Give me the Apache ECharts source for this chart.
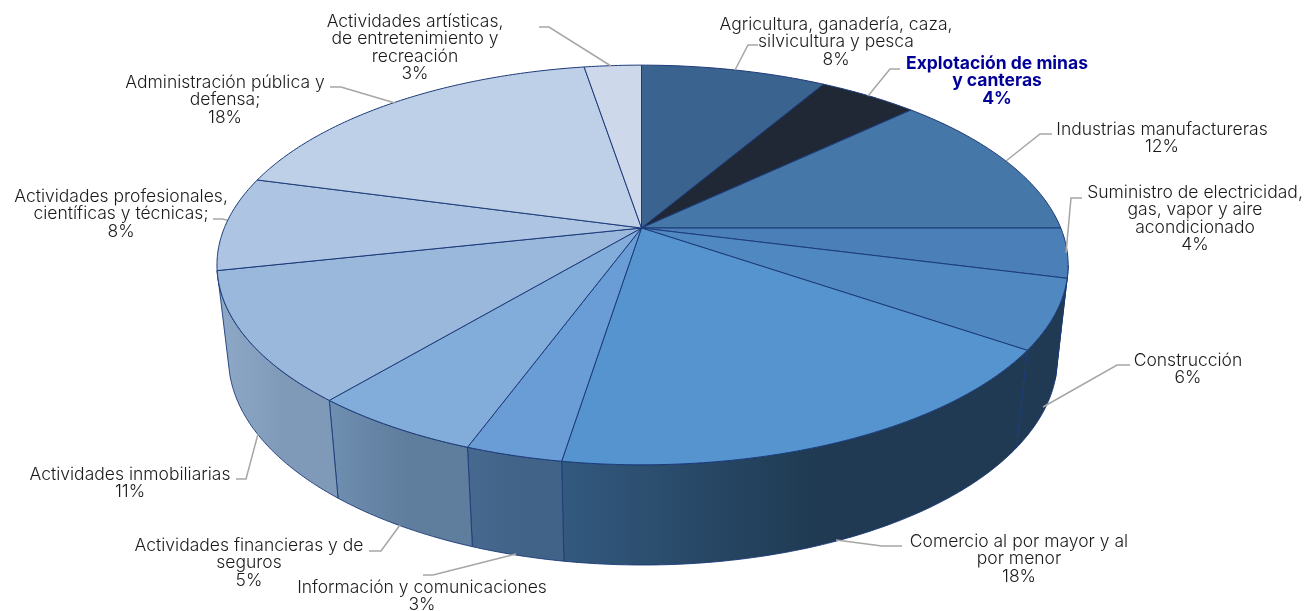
<!DOCTYPE html>
<html><head><meta charset="utf-8">
<style>html,body{margin:0;padding:0;background:#fff}#c{width:1307px;height:611px}</style>
<script src="https://cdn.jsdelivr.net/npm/echarts@6/dist/echarts.min.js"></script>
</head><body><div id="c"></div>
<script>
const categories = ["Agricultura, ganadería, caza,\nsilvicultura y pesca","Explotación de minas\ny canteras","Industrias manufactureras","Suministro de electricidad,\ngas, vapor y aire\nacondicionado","Construcción","Comercio al por mayor y al\npor menor","Información y comunicaciones","Actividades financieras y de\nseguros","Actividades inmobiliarias","Actividades profesionales,\ncientíficas y técnicas;","Administración pública y\ndefensa;","Actividades artísticas,\nde entretenimiento y\nrecreación"];
const shares = [8.4,4.5,12.1,4,5.6,17.9,3.1,5.5,10.5,7.6,18.2,2.6];
const percentLabels = ["8%","4%","12%","4%","6%","18%","3%","5%","11%","8%","18%","3%"];
const topColors = ["#3a648f","#202836","#4577a8","#4a7fb8","#5088c2","#5594cf","#6a9dd5","#82acd9","#9ab7dc","#adc4e2","#bed0e7","#cdd8ea"];
const wallColors = [null,null,null,["#1f3a52","#1f3a52"],["#1f3a52","#1f3a52"],["#33597f","#1f3a52"],["#48698f","#426388"],["#6f8fb2","#5f7d9c"],["#8fa9c8","#7f9ab8"],null,null,null];
const labelCenters = [[836,15.5],[997,54.5],[1162,120.5],[1195,183.5],[1188,351.5],[1019,532.5],[422,578.5],[249,536.5],[130,465.5],[121,187.5],[225,73.5],[415,12.5]];
const leaders = [[[735,70],[748,45],[758,45]],[[868,96],[890,69],[900,69]],[[1006,161],[1040,134],[1052,134]],[[1066,253],[1071,198],[1082,198]],[[1043,407],[1117,365],[1130,365]],[[836,540],[882,546],[902,546]],[[516,554],[433,575],[423,575]],[[400,525],[381,551],[369,551]],[[258,434],[246,479],[236,479]],[[227,220],[222,219],[213,219]],[[395,103],[341,87],[330,87]],[[611,66],[549,27],[539,27]]];

// perspective disc: apex of the pie and projection constants
const AX=641.5, AY=228, AR=419.3, AL=417.2, B=193, K=0.185;
// lower rim ellipse
const BX=643, BY=358, BRX=414.5, BRY=207, BS=0.972;
const VIS0=100.7, VIS1=259.3;
const rad=d=>d*Math.PI/180;
function topPt(deg){const u=Math.sin(rad(deg)),v=-Math.cos(rad(deg)),d=1-K*v;return [AX+(u<0?AL:AR)*u/d,AY+B*v/d];}
function botPt(deg){const p=topPt(deg);const x=AX+BS*(p[0]-AX);const r=Math.max(0,1-Math.pow((x-BX)/BRX,2));return [x,BY+BRY*Math.sqrt(r)];}
function arc(f,a,b){const n=Math.max(2,Math.ceil(Math.abs(b-a)*1.5));const o=[];for(let i=0;i<=n;i++)o.push(f(a+(b-a)*i/n));return o;}
const total=shares.reduce((a,b)=>a+b,0);
const STROKE="#1b3a78";

const chart=echarts.init(document.getElementById('c'),null,{renderer:'canvas'});
const FONT="Inter";
chart.setOption({
  animation:false,
  series:[{
    type:'custom',coordinateSystem:'none',silent:true,
    data:shares.map((v,i)=>({value:[v,i],name:categories[i].replace(/\n/g,' ')})),
    renderItem(params,api){
      const i=api.value(1);
      let s=0;for(let j=0;j<i;j++)s+=shares[j];
      const a0=s/total*360,a1=(s+api.value(0))/total*360;
      const children=[];
      const w0=Math.max(a0,VIS0),w1=Math.min(a1,VIS1);
      if(w1>w0&&wallColors[i]){
        const pts=arc(topPt,w0,w1).concat(arc(botPt,w0,w1).reverse());
        children.push({type:'polygon',shape:{points:pts},style:{
          fill:new echarts.graphic.LinearGradient(0,0,1,0,[{offset:0,color:wallColors[i][0]},{offset:0.55,color:wallColors[i][1]},{offset:1,color:wallColors[i][1]}]),
          stroke:STROKE,lineWidth:0.9}});
      }
      const pts=[[AX,AY]].concat(arc(topPt,a0,a1));
      children.push({type:'polygon',shape:{points:pts},style:{fill:topColors[i],stroke:STROKE,lineWidth:1,lineJoin:'round'}});
      return {type:'group',children};
    }
  }],
  graphic:{elements:[
    ...leaders.map(p=>({type:'polyline',silent:true,z:5,shape:{points:p},style:{stroke:'#a6a6a6',lineWidth:1.5,fill:'none'}})),
    ...categories.map((c,i)=>({type:'text',silent:true,z:6,x:labelCenters[i][0],y:labelCenters[i][1],
      style:{text:c+"\n"+percentLabels[i],font:(i===1?'700 ':'300 ')+'17.5px '+FONT,lineHeight:17.5,align:'center',verticalAlign:'top',fill:i===1?'#000099':'#1a1a1a'}}))
  ]}
});
</script></body></html>
